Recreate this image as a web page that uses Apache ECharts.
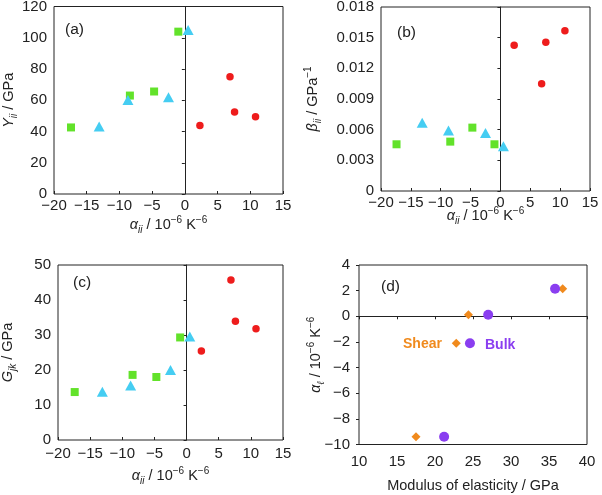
<!DOCTYPE html>
<html>
<head>
<meta charset="utf-8">
<script src="https://cdn.jsdelivr.net/npm/echarts@6/dist/echarts.min.js"></script>
<style>
html,body{margin:0;padding:0;background:#fff;}
#chart{width:602px;height:495px;}
</style>
</head>
<body>
<div id="chart"></div>
<script>
// ---- data ----
const alphaGreen = [-17.4, -8.4, -4.7, -1.0];
const alphaBlue  = [-13.1, -8.7, -2.5, 0.5];
const alphaRed   = [2.3, 6.9, 7.6, 10.8];

const youngGreen = [42.6, 63.0, 65.6, 103.9];
const youngBlue  = [43.2, 60.2, 61.9, 105.0];
const youngRed   = [43.9, 75.0, 52.5, 49.5];

const compGreen = [0.00457, 0.00483, 0.0062, 0.00457];
const compBlue  = [0.00668, 0.00593, 0.00567, 0.00437];
const compRed   = [0.01425, 0.0105, 0.01454, 0.01568];

const shearGreen = [13.7, 18.6, 18.0, 29.3];
const shearBlue  = [13.8, 15.6, 20.0, 29.6];
const shearRed   = [25.4, 45.7, 33.9, 31.8];

const alphaL   = [-9.4, -2.1, 0.12, 2.15];
const shearMod = [17.5, 22.8, 24.4, 36.8];
const bulkMod  = [21.2, 24.6, 27.0, 35.8];

// axis ranges [min, max, interval]
const rangeAlpha = [-20, 15, 5];
const rangeYoung = [0, 120, 20];
const rangeComp  = [0, 0.018, 0.003];
const rangeShear = [0, 50, 10];
const rangeMod   = [10, 40, 5];
const rangeAlphaL = [-10, 4, 2];

const panelLabels = ['(a)', '(b)', '(c)', '(d)'];

// ---- helpers ----
const FONT = 'Liberation Sans';
const pairs = (xs, ys) => xs.map((x, i) => [x, ys[i]]);
const fmtNum = v => String(v).replace('-', '\u2212');
const fmtComp = v => v === 0 ? '0' : v.toFixed(3);

const GREEN = '#62e22a', BLUE = '#45cdf2', RED = '#ee1c1c';
const ORANGE = '#f08a1d', PURPLE = '#8a3ef0';

const richName = {
  t: {fontSize: 14.5, fontFamily: FONT, color: '#222', lineHeight: 20},
  i: {fontSize: 14.5, fontFamily: FONT, color: '#222', fontStyle: 'italic', lineHeight: 20},
  s: {fontSize: 10, fontFamily: FONT, color: '#222', fontStyle: 'italic', lineHeight: 12, verticalAlign: 'bottom'},
  p: {fontSize: 10, fontFamily: FONT, color: '#222', lineHeight: 12, verticalAlign: 'top'}
};
const alphaName = '{i|\u03b1}{s|ii}{t| / 10}{p|\u22126}{t| K}{p|\u22126}';

function gridOf(l, t, w, h) {
  return {left: l, top: t, width: w, height: h, show: true, borderColor: '#222', borderWidth: 1,
          backgroundColor: 'transparent', containLabel: false, outerBoundsMode: 'none'};
}
function labelAxis(dim, gi, r, opts) {
  const a = {
    type: 'value', gridIndex: gi, min: r[0], max: r[1], interval: r[2],
    position: dim === 'x' ? 'bottom' : 'left',
    axisLine: {show: false, onZero: false},
    axisTick: {show: false},
    splitLine: {show: false},
    axisLabel: {fontSize: 15, fontFamily: FONT, color: '#222', margin: 7, formatter: fmtNum},
    nameLocation: 'middle', nameMoveOverlap: false,
    nameTextStyle: {rich: richName}
  };
  return Object.assign(a, opts || {});
}
function zeroAxis(dim, gi, r) {
  return {
    type: 'value', gridIndex: gi, min: r[0], max: r[1], interval: r[2],
    position: dim === 'x' ? 'bottom' : 'left',
    axisLine: {show: true, onZero: true, lineStyle: {color: '#222', width: 1}},
    axisTick: {show: true, inside: false, length: 3, lineStyle: {color: '#222'}},
    axisLabel: {show: false},
    splitLine: {show: false}
  };
}
function sc(xi, yi, data, symbol, size, color) {
  return {type: 'scatter', xAxisIndex: xi, yAxisIndex: yi, data: data, symbol: symbol,
          symbolSize: size, itemStyle: {color: color, opacity: 1}, z: 3};
}
const inTick = {show: true, inside: true, length: 3, lineStyle: {color: '#222'}};

const option = {
  animation: false,
  backgroundColor: '#fff',
  grid: [
    gridOf(54, 6.5, 229, 187.5),
    gridOf(381, 7, 209, 184),
    gridOf(58, 265, 225, 175),
    gridOf(359, 265, 228, 179.5)
  ],
  xAxis: [
    labelAxis('x', 0, rangeAlpha, {name: alphaName, nameGap: 21, axisTick: inTick, axisLabel: {fontSize: 15, fontFamily: FONT, color: '#222', margin: 4, formatter: fmtNum}}),
    labelAxis('x', 1, rangeAlpha, {name: alphaName, nameGap: 15, axisTick: inTick, axisLabel: {fontSize: 15, fontFamily: FONT, color: '#222', margin: 4, formatter: fmtNum}}),
    labelAxis('x', 2, rangeAlpha, {name: alphaName, nameGap: 26, axisTick: inTick, axisLabel: {fontSize: 15, fontFamily: FONT, color: '#222', margin: 6, formatter: fmtNum}}),
    labelAxis('x', 3, rangeMod, {name: '{t|Modulus of elasticity / GPa}', nameGap: 31, axisLabel: {fontSize: 15, fontFamily: FONT, color: '#222', margin: 10, formatter: fmtNum}}),
    zeroAxis('x', 3, rangeMod)
  ],
  yAxis: [
    labelAxis('y', 0, rangeYoung, {name: '{i|Y}{s|ii}{t| / GPa}', nameGap: 35, nameRotate: 90}),
    zeroAxis('y', 0, rangeYoung),
    labelAxis('y', 1, rangeComp, {name: '{i|\u03b2}{s|ii}{t| / GPa}{p|\u22121}', nameGap: 58, nameRotate: 90,
      axisLabel: {fontSize: 15, fontFamily: FONT, color: '#222', margin: 7, formatter: fmtComp}}),
    zeroAxis('y', 1, rangeComp),
    labelAxis('y', 2, rangeShear, {name: '{i|G}{s|jk}{t| / GPa}', nameGap: 40, nameRotate: 90}),
    zeroAxis('y', 2, rangeShear),
    labelAxis('y', 3, rangeAlphaL, {name: '{i|\u03b1}{s|\u2113}{t| / 10}{p|\u22126}{t| K}{p|\u22126}', nameGap: 33, nameRotate: 90,
      axisTick: {show: true, inside: false, length: 3, lineStyle: {color: '#222'}},
      axisLabel: {fontSize: 15, fontFamily: FONT, color: '#222', margin: 9, formatter: fmtNum}})
  ],
  series: [
    sc(0, 0, pairs(alphaGreen, youngGreen), 'rect', 8, GREEN),
    sc(0, 0, pairs(alphaBlue, youngBlue), 'triangle', [11, 10], BLUE),
    sc(0, 0, pairs(alphaRed, youngRed), 'circle', 7.5, RED),

    sc(1, 2, pairs(alphaGreen, compGreen), 'rect', 8, GREEN),
    sc(1, 2, pairs(alphaBlue, compBlue), 'triangle', [11, 10], BLUE),
    sc(1, 2, pairs(alphaRed, compRed), 'circle', 7.5, RED),

    sc(2, 4, pairs(alphaGreen, shearGreen), 'rect', 8, GREEN),
    sc(2, 4, pairs(alphaBlue, shearBlue), 'triangle', [11, 10], BLUE),
    sc(2, 4, pairs(alphaRed, shearRed), 'circle', 7.5, RED),

    sc(3, 6, pairs(shearMod, alphaL), 'diamond', 9, ORANGE),
    sc(3, 6, pairs(bulkMod, alphaL), 'circle', 10, PURPLE)
  ],
  graphic: [
    {type: 'text', x: 65, y: 30, style: {text: panelLabels[0], fontSize: 15.5, fontFamily: FONT, fill: '#222', verticalAlign: 'middle'}},
    {type: 'text', x: 397, y: 33, style: {text: panelLabels[1], fontSize: 15.5, fontFamily: FONT, fill: '#222', verticalAlign: 'middle'}},
    {type: 'text', x: 73, y: 283, style: {text: panelLabels[2], fontSize: 15.5, fontFamily: FONT, fill: '#222', verticalAlign: 'middle'}},
    {type: 'text', x: 381, y: 287, style: {text: panelLabels[3], fontSize: 15.5, fontFamily: FONT, fill: '#222', verticalAlign: 'middle'}},
    {type: 'text', x: 403, y: 344, style: {text: 'Shear', fontSize: 14, fontWeight: 'bold', fontFamily: FONT, fill: ORANGE, verticalAlign: 'middle'}},
    {type: 'text', x: 485, y: 345, style: {text: 'Bulk', fontSize: 14, fontWeight: 'bold', fontFamily: FONT, fill: PURPLE, verticalAlign: 'middle'}}
  ]
};

const chart = echarts.init(document.getElementById('chart'), null, {renderer: 'canvas'});
chart.setOption(option);
</script>
</body>
</html>
